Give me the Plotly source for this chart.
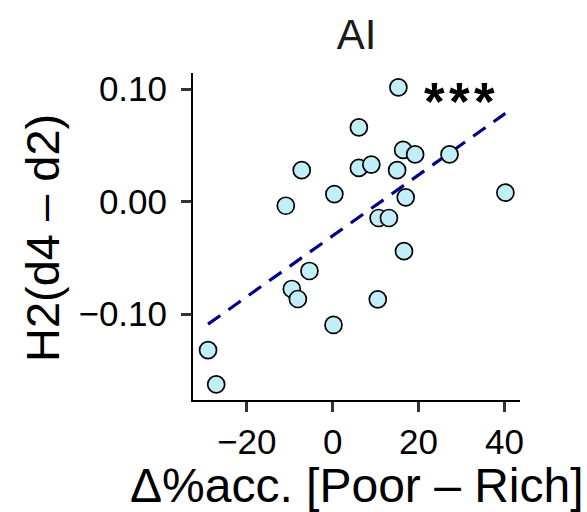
import numpy as np
import plotly.graph_objects as go

# Data
delta_acc = [15.3, 6.1, 16.4, 19.2, 27.2, -7.2, 6.1, 9.0, 15.0, 0.4, 40.2, -10.9,
             17.0, 10.7, 13.1, 16.6, -5.4, -9.5, -8.1, 10.5, 0.2, -29.0, -27.1]
h2_diff = [0.1016, 0.066, 0.046, 0.042, 0.042, 0.028, 0.030, 0.033, 0.028, 0.0068,
           0.008, -0.0036, 0.0039, -0.0145, -0.0145, -0.044, -0.0616, -0.0776,
           -0.0865, -0.0868, -0.1096, -0.1319, -0.1624]
x_ticks = [-20, 0, 20, 40]
x_tick_labels = ["\u221220", "0", "20", "40"]
y_ticks = [-0.10, 0.00, 0.10]
y_tick_labels = ["\u22120.10", "0.00", "0.10"]
title_text = "AI"
signif = "***"

# Linear fit
slope, intercept = np.polyfit(delta_acc, h2_diff, 1)
fit_x = np.array([min(delta_acc), max(delta_acc)])
fit_y = slope * fit_x + intercept

FONT = "Liberation Sans, Arial, Helvetica, sans-serif"

fig = go.Figure()
fig.add_trace(go.Scatter(
    x=fit_x, y=fit_y, mode="lines",
    line=dict(color="#00008B", width=3.2, dash="15px,10px"),
    hoverinfo="skip", showlegend=False))
fig.add_trace(go.Scatter(
    x=delta_acc, y=h2_diff, mode="markers",
    marker=dict(size=17, color="#C2EEFA", line=dict(color="black", width=1.7)),
    showlegend=False))

fig.update_layout(
    width=587, height=512,
    margin=dict(l=193, r=67, t=73, b=112),
    plot_bgcolor="white", paper_bgcolor="white",
    font=dict(family=FONT, color="black"),
    title=dict(text=title_text, x=356.5/587, xanchor="center",
               y=1 - 34/512, yanchor="middle",
               font=dict(size=42, color="#1a1a1a")),
    xaxis=dict(range=[-32.5, 43.6], tickvals=x_ticks, ticktext=x_tick_labels,
               showgrid=False, zeroline=False, showline=True, linecolor="black",
               linewidth=2, ticks="outside", ticklen=10, tickwidth=3,
               tickcolor="#333333", tickfont=dict(size=35, color="black"),
               ticklabelstandoff=0),
    yaxis=dict(range=[-0.1763, 0.1144], tickvals=y_ticks, ticktext=y_tick_labels,
               showgrid=False, zeroline=False, showline=True, linecolor="black",
               linewidth=2, ticks="outside", ticklen=10, tickwidth=3,
               tickcolor="#333333", tickfont=dict(size=35, color="black"),
               ticklabelstandoff=7),
    annotations=[
        dict(text="H2(d4 \u2013 d2)", xref="paper", yref="paper",
             x=(42 - 193) / 327, y=(400 - 238) / 327, textangle=-90,
             showarrow=False, xanchor="center", yanchor="middle",
             font=dict(size=47, color="black")),
        dict(text="\u0394%acc. [Poor \u2013 Rich]", xref="paper", yref="paper",
             x=(356.5 - 193) / 327, y=(400 - 485) / 327,
             showarrow=False, xanchor="center", yanchor="middle",
             font=dict(size=48, color="black")),
        dict(text="<b>" + "\u200a".join(signif) + "</b>", x=29.6, y=0.0893,
             showarrow=False, xanchor="center", yanchor="middle",
             font=dict(size=53, color="black")),
    ],
)

fig.write_html("out.html")
